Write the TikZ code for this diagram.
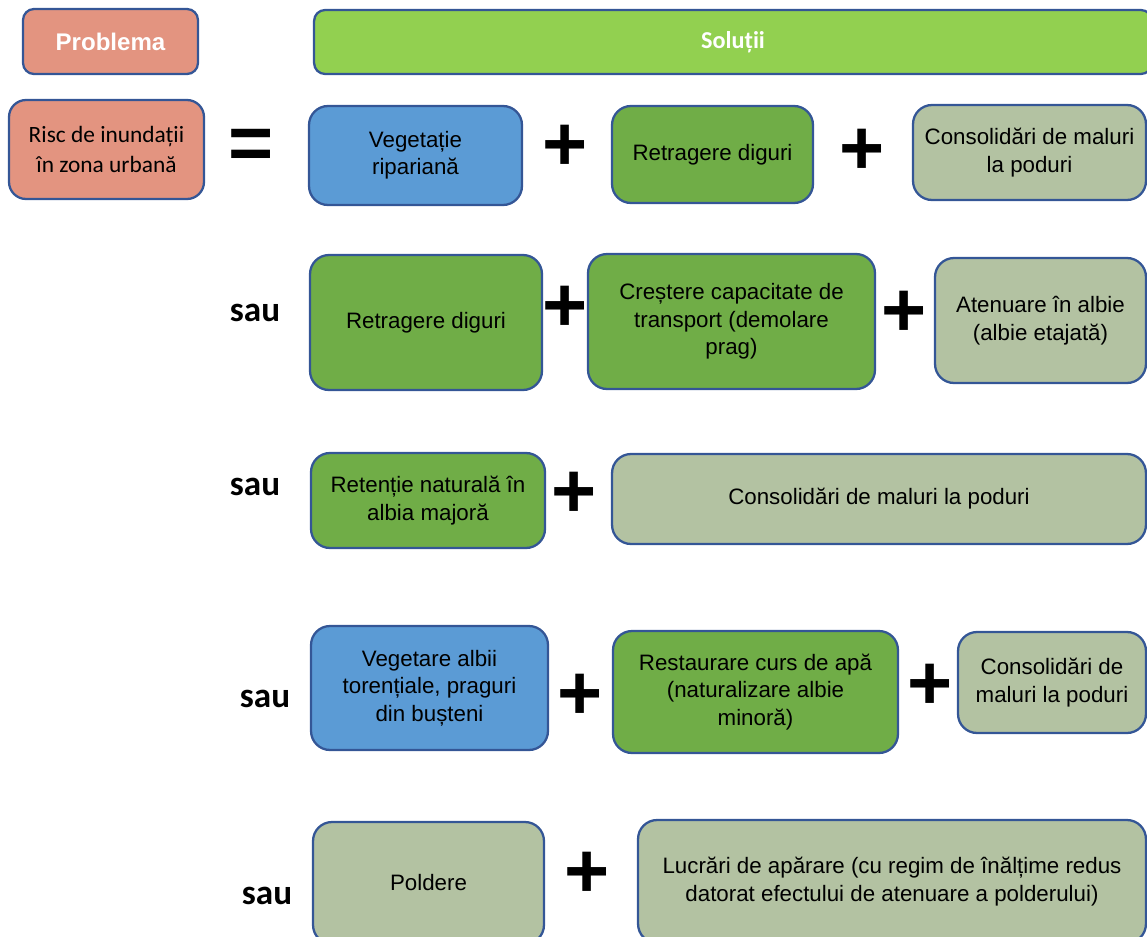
\documentclass[tikz,border=0pt]{standalone}
\usepackage{fontspec}
\setmainfont{Liberation Sans}
\newfontfamily\calibri{Carlito}
\usepackage{xcolor}
\definecolor{rose}{RGB}{227,148,128}
\definecolor{lime}{RGB}{146,208,80}
\definecolor{leaf}{RGB}{112,173,71}
\definecolor{sky}{RGB}{91,155,213}
\definecolor{sage}{RGB}{179,194,162}
\definecolor{edge}{RGB}{52,86,150}

\begin{document}
\begin{tikzpicture}[x=0.02cm, y=-0.02cm,
  box/.style={draw=edge, line width=1.3pt, rounded corners=0.38cm, inner sep=0pt,
    align=center, font=\fontsize{12.7}{15.6}\selectfont},
  rosebox/.style={box, fill=rose},
  limebox/.style={box, fill=lime},
  skybox/.style={box, fill=sky},
  leafbox/.style={box, fill=leaf},
  sagebox/.style={box, fill=sage},
  plus/.style={inner sep=0pt, font=\fontsize{44}{44}\selectfont\bfseries},
  sau/.style={inner sep=0pt, anchor=base, font=\calibri\fontsize{20}{20}\selectfont\bfseries}]
  \useasboundingbox (0,0) rectangle (1147,937);
  \clip (0,0) rectangle (1147,937);
  \node[rosebox, rounded corners=0.22cm, minimum width=3.5cm, minimum height=1.3cm,
    text=white, font=\fontsize{13.7}{16}\selectfont\bfseries] (P) at (110.5,41.5) {Problema};
  \node[limebox, rounded corners=0.22cm, minimum width=16.76cm, minimum height=1.28cm,
    text=white, font=\calibri\fontsize{13.8}{16}\selectfont\bfseries] (S) at (733,42) {Soluții};
  \node[rosebox, rounded corners=0.34cm, minimum width=3.9cm, minimum height=1.98cm,
    font=\calibri\fontsize{13.3}{17.5}\selectfont] (R) at (106.5,149.5) {Risc de inundații\\în zona urbană};
  \node[plus] (E) at (251,149) {=};
  \node[skybox, minimum width=4.26cm, minimum height=1.98cm] (V1) at (415.5,155.5) {Vegetație\\ripariană};
  \node[plus] (A1) at (565,148) {+};
  \node[leafbox, minimum width=4.02cm, minimum height=1.94cm] (D1) at (712.5,154.5) {Retragere diguri};
  \node[plus] (A2) at (862,152) {+};
  \node[sagebox, minimum width=4.66cm, minimum height=1.9cm] (C1) at (1029.5,152.5) {Consolidări de maluri\\la poduri};
  \node[sau] (S2) at (255,321) {sau};
  \node[leafbox, minimum width=4.64cm, minimum height=2.7cm] (D2) at (426,322.5) {Retragere diguri};
  \node[plus] (A3) at (565,309) {+};
  \node[leafbox, minimum width=5.74cm, minimum height=2.7cm] (T2) at (731.5,321.5) {Creștere capacitate de\\transport (demolare\\prag)};
  \node[plus] (A4) at (904,314) {+};
  \node[sagebox, minimum width=4.22cm, minimum height=2.5cm] (M2) at (1040.5,320.5) {Atenuare în albie\\(albie etajată)};
  \node[sau] (S3) at (255,495) {sau};
  \node[leafbox, minimum width=4.68cm, minimum height=1.9cm] (N3) at (428,500.5) {Retenție naturală în\\albia majoră};
  \node[plus] (A5) at (574,495) {+};
  \node[sagebox, minimum width=10.68cm, minimum height=1.8cm] (C3) at (879,499) {Consolidări de maluri la poduri};
  \node[sau] (S4) at (265,707) {sau};
  \node[skybox, minimum width=4.74cm, minimum height=2.48cm] (V4) at (429.5,688) {Vegetare albii\\torențiale, praguri\\din bușteni};
  \node[plus] (A6) at (580,697) {+};
  \node[leafbox, minimum width=5.7cm, minimum height=2.44cm] (N4) at (755.5,692) {Restaurare curs de apă\\(naturalizare albie\\minoră)};
  \node[plus] (A7) at (930,687) {+};
  \node[sagebox, minimum width=3.76cm, minimum height=2.02cm] (C4) at (1052,682.5) {Consolidări de\\maluri la poduri};
  \node[sau] (S5) at (267,904) {sau};
  \node[sagebox, minimum width=4.62cm, minimum height=2.44cm] (L5) at (428.5,883) {Poldere};
  \node[plus] (A8) at (587,875) {+};
  \node[sagebox, minimum width=10.16cm, minimum height=2.46cm] (W5) at (892,881.5) {Lucrări de apărare (cu regim de înălțime redus\\datorat efectului de atenuare a polderului)};
\end{tikzpicture}
\end{document}
